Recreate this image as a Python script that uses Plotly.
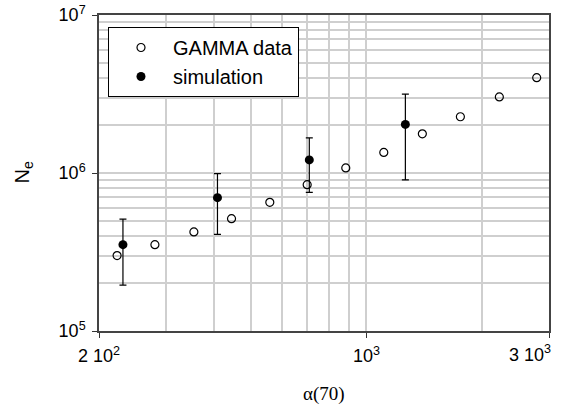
import numpy as np
import plotly.graph_objects as go

# GAMMA data (open circles)
gamma_x = [223, 280, 354, 444, 559, 700, 883, 1110, 1400, 1760, 2225, 2786]
gamma_y = [3.0e5, 3.52e5, 4.24e5, 5.14e5, 6.52e5, 8.43e5, 1.076e6, 1.35e6, 1.77e6, 2.27e6, 3.03e6, 4.01e6]

# simulation (filled circles with error bars)
sim_x = [231, 408, 709, 1264]
sim_y = [3.52e5, 6.98e5, 1.21e6, 2.03e6]
sim_hi = [5.1e5, 9.9e5, 1.67e6, 3.16e6]
sim_lo = [1.95e5, 4.09e5, 7.55e5, 9.04e5]

x_tickvals = [200, 1000, 3000]
x_ticktext = ["2 10<sup>2</sup>", "10<sup>3</sup>", ""]
x_last_label = "3 10<sup>3</sup>"
x_minor = [300, 400, 500, 600, 700, 800, 900, 2000]
y_tickvals = [1e5, 1e6, 1e7]
y_ticktext = ["10<sup>5</sup>", "10<sup>6</sup>", "10<sup>7</sup>"]
y_minor = [m * 10**e for e in (5, 6) for m in range(2, 10)]

err_plus = [h - y for h, y in zip(sim_hi, sim_y)]
err_minus = [y - l for l, y in zip(sim_lo, sim_y)]

fig = go.Figure()
fig.add_trace(go.Scatter(
    x=gamma_x, y=gamma_y, mode="markers", name="GAMMA data",
    marker=dict(symbol="circle-open", size=8, color="black", line=dict(width=1.2, color="black")),
))
fig.add_trace(go.Scatter(
    x=sim_x, y=sim_y, mode="markers", name="simulation",
    marker=dict(symbol="circle", size=9, color="black"),
    error_y=dict(type="data", symmetric=False, array=err_plus, arrayminus=err_minus,
                 color="black", thickness=1.2, width=3.5),
))

grid_c = "#cfcfcf"
eps = 1e-6
fig.update_layout(
    width=567, height=406,
    margin=dict(l=99, r=18, t=15, b=75, autoexpand=False),
    paper_bgcolor="white", plot_bgcolor="white",
    font=dict(family="Liberation Sans, Arial, sans-serif", size=18, color="black"),
    showlegend=True,
    legend=dict(x=0.02, y=0.962, xanchor="left", yanchor="top",
                bgcolor="white", bordercolor="black", borderwidth=1,
                itemwidth=54, font=dict(size=20), tracegroupgap=0),
    xaxis=dict(type="log", range=[np.log10(200) - eps, np.log10(3000) + eps],
               automargin=False, ticklabeloverflow="allow",
               tickmode="array", tickvals=x_tickvals, ticktext=x_ticktext,
               ticks="outside", ticklen=5, tickcolor="#333",
               showgrid=True, gridcolor=grid_c, gridwidth=1.5,
               minor=dict(tickmode="array", tickvals=x_minor, showgrid=True,
                          gridcolor=grid_c, gridwidth=1.5, ticks=""),
               showline=True, linecolor="#444", linewidth=1.5, mirror=True,
               zeroline=False, tickfont=dict(size=18), ticklabelstandoff=3),
    yaxis=dict(type="log", range=[5 - eps, 7 + eps],
               automargin=False, ticklabeloverflow="allow",
               tickmode="array", tickvals=y_tickvals, ticktext=y_ticktext,
               ticks="outside", ticklen=5, tickcolor="#333",
               showgrid=True, gridcolor=grid_c, gridwidth=1.5,
               minor=dict(tickmode="array", tickvals=y_minor, showgrid=True,
                          gridcolor=grid_c, gridwidth=1.5, ticks=""),
               showline=True, linecolor="#444", linewidth=1.5, mirror=True,
               zeroline=False, tickfont=dict(size=18), ticklabelstandoff=3),
    annotations=[
        dict(text=x_last_label, xref="x", yref="paper", x=np.log10(x_tickvals[-1]), y=0,
             xanchor="right", yanchor="top", yshift=-9, xshift=4, showarrow=False,
             font=dict(size=18)),
        dict(text="α(70)", xref="paper", yref="paper", x=0.5, y=-0.2,
             xanchor="center", yanchor="middle", showarrow=False,
             font=dict(family="Liberation Serif, Times New Roman, serif", size=19)),
        dict(text="N<sub>e</sub>", xref="paper", yref="paper", x=-0.17, y=0.5,
             xanchor="center", yanchor="middle", showarrow=False, textangle=-90,
             font=dict(size=20)),
    ],
)

fig.write_html("out.html", config={"displayModeBar": False},
               post_script="document.body.style.margin='0';")
